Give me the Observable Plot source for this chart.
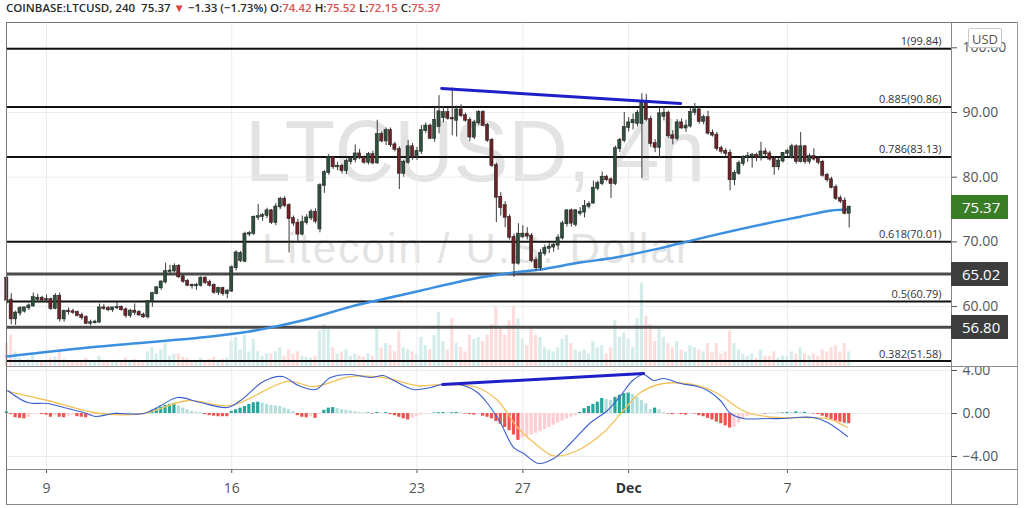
<!DOCTYPE html>
<html><head><meta charset="utf-8">
<script src="https://cdn.jsdelivr.net/npm/d3@7"></script>
<script src="https://cdn.jsdelivr.net/npm/@observablehq/plot@0.6"></script>
<style>
body{margin:0;background:#fff;}
#root{position:relative;width:1024px;height:508px;overflow:hidden;background:#fff;font-family:"Open Sans",sans-serif;}
#root > *{position:absolute;}
.hdr{left:6px;top:0;font-size:11.5px;line-height:16px;font-weight:600;color:#2a2a2a;white-space:nowrap;}
.hdr .r{color:#d9534f;}
.pbox{left:951px;width:57px;height:24px;color:#fff;font-size:15px;line-height:24px;padding-left:11px;box-sizing:border-box;}
</style></head><body><div id="root"></div>
<script>
// ---------- data ----------
const openP = [
64.4,61.0,58.1,59.0,59.3,59.8,60.1,61.1,61.3,61.0,
61.1,59.7,61.6,58.1,59.3,59.2,59.1,58.6,58.3,57.4,
57.5,57.6,59.8,59.7,59.5,59.8,59.9,59.5,58.6,59.3,
59.1,58.7,58.4,60.8,62.0,62.9,63.8,65.4,65.5,66.2,
64.6,63.9,63.3,63.2,63.3,64.4,63.7,63.3,62.2,62.8,
62.0,62.4,66.0,67.1,67.0,71.2,71.3,73.8,73.9,74.1,
74.8,73.0,75.4,76.6,75.6,73.6,72.9,71.2,73.0,73.7,
74.6,72.0,78.7,80.7,83.0,81.6,81.7,81.0,82.4,82.7,
83.6,83.0,82.3,83.5,82.2,86.6,85.6,87.2,85.0,84.3,
80.6,82.3,84.7,83.1,84.0,87.2,87.9,86.0,87.8,89.2,
90.0,89.1,88.8,90.4,89.5,88.8,86.2,88.4,90.0,88.0,
85.7,81.8,76.9,75.6,73.8,70.7,66.7,70.8,71.2,70.9,
67.1,66.0,68.2,69.0,69.2,69.5,70.6,72.8,74.8,72.7,
74.4,74.6,75.5,76.0,78.3,79.0,80.0,79.6,79.0,84.4,
85.7,87.7,88.4,88.3,88.3,91.4,88.9,85.2,84.6,89.4,
89.9,86.4,86.0,88.4,87.6,87.9,90.0,90.4,88.6,89.2,
86.8,86.5,84.4,84.0,83.7,79.6,80.6,82.1,83.0,83.2,
83.4,83.0,83.9,83.6,82.8,81.6,82.5,83.7,83.0,84.7,
82.4,84.7,82.4,83.2,82.8,82.3,80.3,79.6,78.4,76.7,
76.3,74.42];
const highP = [
64.8,62.0,59.3,60.0,59.9,60.4,62.1,61.9,61.6,61.8,
61.3,62.0,62.1,59.4,59.8,59.6,59.3,59.0,58.6,57.9,
57.9,60.4,60.3,60.0,59.9,60.6,60.1,59.8,59.6,60.4,
59.4,59.0,60.9,62.2,63.1,64.0,66.7,66.4,66.6,66.5,
64.9,64.2,63.5,63.6,64.6,64.6,64.1,63.5,63.0,63.0,
62.6,66.3,68.6,68.5,71.5,71.6,74.0,75.8,74.4,75.2,
75.0,75.9,76.9,77.0,75.9,74.0,73.5,74.0,74.2,75.0,
75.1,79.0,81.0,83.5,83.2,82.3,82.0,82.8,83.0,85.0,
84.3,83.3,83.8,84.0,88.8,87.0,87.6,87.6,85.4,84.7,
82.6,85.7,85.2,84.6,88.0,88.4,88.2,90.8,92.6,90.9,
90.6,93.8,91.0,91.2,89.9,89.2,88.8,90.3,90.3,88.3,
86.0,82.2,77.6,76.2,74.2,71.2,72.8,72.5,72.2,71.3,
67.6,68.8,69.5,69.9,70.0,71.1,73.2,75.0,75.1,75.0,
75.3,76.4,76.2,79.4,79.4,80.8,80.3,79.9,84.8,86.0,
90.0,89.2,89.8,90.3,92.9,92.8,89.4,85.8,90.6,90.8,
90.2,87.2,88.9,89.0,88.8,90.6,91.4,90.8,89.6,90.2,
87.3,86.9,84.8,84.4,84.2,81.0,82.5,83.3,83.8,83.7,
83.7,85.4,84.4,84.0,83.2,82.9,83.8,84.3,85.1,85.0,
86.9,84.9,83.6,84.4,83.2,82.6,80.6,80.0,78.8,77.1,
76.8,75.52];
const lowP = [
60.3,57.2,57.1,58.5,59.0,59.4,59.9,60.7,60.6,60.5,
59.4,59.5,57.6,57.6,58.7,58.8,58.4,57.9,57.2,57.0,
57.3,57.4,59.4,59.2,59.1,59.5,59.3,58.2,58.2,58.6,
58.5,58.2,58.1,59.9,61.8,62.5,63.5,65.0,65.2,64.3,
63.6,63.1,62.7,62.5,63.0,63.4,63.0,61.9,61.7,61.6,
61.2,62.2,65.5,66.8,66.8,70.8,71.0,73.3,73.2,73.6,
72.7,72.5,75.0,75.3,68.3,72.4,69.8,70.9,72.6,73.3,
72.8,71.4,77.5,80.3,81.2,81.0,80.5,80.4,81.9,82.2,
82.7,82.0,81.9,81.9,82.0,85.3,84.9,84.6,83.9,78.1,
80.0,82.0,82.6,82.6,83.5,86.8,85.8,85.4,86.7,88.4,
88.8,86.4,86.2,89.2,88.5,85.5,85.8,88.0,87.8,85.4,
81.5,73.0,74.0,72.2,70.3,64.5,66.4,70.5,70.3,66.8,
65.5,65.5,67.8,68.2,68.4,68.7,70.3,72.3,72.3,72.3,
74.0,73.7,75.1,75.8,77.9,78.7,79.3,76.7,78.7,83.8,
85.3,87.0,87.3,87.8,79.8,88.6,84.6,83.8,82.9,88.7,
86.0,85.0,85.6,87.4,86.9,87.6,89.5,88.2,88.1,86.5,
86.2,84.0,83.6,83.1,77.9,78.7,80.3,81.7,82.3,81.4,
82.4,82.5,83.1,82.5,80.3,81.0,82.2,83.2,82.8,82.0,
82.2,82.0,82.0,82.5,81.9,80.0,79.2,78.2,76.4,75.9,
74.2,72.15];
const closeP = [
61.0,58.1,59.0,59.7,59.8,60.1,61.4,61.3,61.0,61.1,
59.7,61.6,58.1,59.3,59.2,59.1,58.6,58.3,57.4,57.5,
57.6,59.8,59.7,59.5,59.8,59.9,59.5,58.6,59.3,59.1,
58.7,58.4,60.8,62.0,62.9,63.8,65.4,65.5,66.2,64.6,
63.9,63.3,63.2,63.3,64.4,63.7,63.3,62.2,62.8,62.0,
62.4,66.0,68.3,68.2,71.2,71.3,73.8,73.9,74.1,74.8,
73.0,75.4,76.6,75.6,73.6,72.9,71.2,73.0,73.7,74.6,
73.2,78.7,80.7,83.0,81.6,81.7,81.0,82.4,82.7,83.6,
83.0,82.3,83.5,82.2,86.6,85.6,87.2,85.0,84.3,80.6,
82.3,84.7,83.1,84.0,87.2,87.9,86.0,88.8,90.1,90.0,
89.1,89.0,90.4,89.5,88.8,86.2,88.4,90.0,88.0,85.7,
81.8,76.9,75.3,73.8,70.7,66.7,71.2,71.2,70.9,67.1,
66.0,68.2,69.0,69.2,69.5,70.6,72.8,74.8,72.9,74.8,
74.6,75.5,75.8,78.3,79.0,80.0,79.6,79.0,84.4,85.7,
87.7,88.4,88.8,89.9,91.4,88.9,85.2,84.6,89.8,89.9,
86.4,86.0,88.4,87.6,87.9,90.0,90.4,88.6,89.2,86.8,
86.5,84.4,84.0,83.7,79.6,80.6,82.1,83.0,83.2,83.4,
83.0,83.9,83.6,82.8,81.6,82.5,83.7,84.0,84.7,82.4,
84.7,82.4,83.2,82.8,82.3,80.3,79.6,78.4,76.7,76.3,
74.42,75.37];
const volume = [
22,30,14,8,6,7,12,6,5,6, 8,9,16,7,5,5,6,6,8,5, 4,10,6,5,5,6,5,8,6,7,
5,6,14,18,12,16,22,10,12,12, 9,8,6,6,8,6,7,9,6,7, 8,24,28,16,30,14,26,14,10,12,
12,14,18,10,16,12,14,10,9,8, 10,34,40,36,18,12,14,16,10,12, 10,9,12,10,36,18,22,20,14,34,
18,16,14,12,28,20,16,30,52,24, 16,46,22,18,14,30,26,28,24,30, 40,58,36,30,44,58,46,26,20,36,
30,28,18,16,14,18,26,30,22,16, 14,16,12,24,18,20,12,18,44,28, 32,26,18,46,80,48,40,24,36,28,
22,18,24,16,14,20,18,16,14,22, 14,22,12,14,34,22,16,12,10,12, 8,16,10,10,14,8,10,10,14,12,
18,12,10,12,10,16,14,18,20,14, 22,14];
const macdHist = [
0.15,-0.1,-0.4,-0.45,-0.5,-0.35,-0.1,-0.05,-0.1,-0.15,
-0.35,-0.2,-0.35,-0.4,-0.25,-0.15,-0.3,-0.35,-0.4,-0.2,
-0.1,-0.05,0.02,0.0,-0.02,0.02,0.0,-0.03,0.02,0.0,
-0.02,0.0,0.1,0.3,0.45,0.6,0.75,0.85,0.95,0.7,
0.5,0.35,0.2,0.12,0.08,-0.1,-0.2,-0.25,-0.3,-0.3,
-0.3,0.2,0.35,0.5,0.65,0.85,1.0,1.05,0.95,0.85,
0.75,0.7,0.65,0.5,0.35,0.2,-0.2,-0.35,-0.4,-0.3,
-0.45,-0.1,0.3,0.5,0.55,0.45,0.35,0.3,0.25,0.15,
0.1,0.05,0.05,-0.05,0.1,0.05,0.08,-0.1,-0.2,-0.35,
-0.5,-0.6,-0.45,-0.3,-0.15,-0.05,-0.03,0.05,0.08,0.1,
0.05,0.08,0.1,0.05,-0.05,-0.1,-0.15,-0.1,-0.25,-0.35,
-0.5,-0.75,-1.0,-1.3,-1.6,-2.0,-2.5,-2.3,-2.15,-2.0,
-1.85,-1.7,-1.5,-1.3,-1.1,-0.9,-0.7,-0.5,-0.35,-0.2,
0.1,0.45,0.65,0.85,1.05,1.4,1.3,1.2,1.5,1.7,
1.85,1.9,1.75,1.5,1.2,0.9,0.35,0.5,0.35,0.1,
-0.05,-0.1,-0.05,-0.1,-0.15,-0.05,-0.05,-0.2,-0.3,-0.45,
-0.6,-0.8,-0.95,-1.15,-1.35,-1.3,-0.9,-0.55,-0.3,-0.15,
-0.05,0.0,-0.05,0.02,-0.02,0.03,0.05,0.1,0.08,0.15,
0.1,0.1,0.05,-0.05,-0.1,-0.25,-0.4,-0.55,-0.7,-0.8,
-0.9,-0.95];
const maIdx = [0,21,44,55,67,78,89,94,105,115,121,130,138,148,157,172,180,187,190.5];
const maVal = [52.29,53.83,55.22,56.15,57.85,60.0,61.7,62.5,64.2,65.27,65.73,66.8,67.6,69.0,70.5,72.8,73.9,74.85,75.0];
const macdIdx = [0.2,4.7,9.2,12.9,17.4,20.1,24.2,31,34.9,38.7,43.9,50,53,58.2,62.5,66.1,70,73.4,77.9,82.5,85.4,87.7,92.2,96.1,98.8,103.6,106.7,109,111.9,114.9,117.2,120.6,124,127.8,132.4,136.2,139.2,141.9,144.4,146.6,148.9,152.8,156.6,158.9,161.8,164.1,167,172.5,176.1,179.3,182.9,186.1,190.6];
const macdVal = [2.14,1.02,0.93,0.56,0.09,-0.28,0,0,0.74,1.49,1.02,0.56,1.21,2.98,3.44,2.6,2.23,3.35,3.63,3.35,3.53,3.07,2.23,2.42,2.7,2.6,1.95,0.93,-0.84,-3.16,-3.72,-4.65,-4.19,-2.79,-0.84,0.28,1.67,3.07,3.63,3.07,3.26,2.79,2.51,2.14,1.21,0,-0.47,-0.47,-0.47,-0.37,-0.37,-0.84,-2.14];
const sigIdx = [0.2,9.2,21.2,31,41,50.7,63.7,69.6,77.9,85.4,93.1,99,106.7,111.3,115.8,120.3,124,129.4,135.3,139.8,143.7,148.9,156.6,161.2,165.7,168.6,174.8,180,183.8,186.8,190.6];
const sigVal = [2.05,1.21,0,0,1.21,0.74,2.98,2.51,3.44,3.35,2.6,2.7,2.42,1.21,-1.3,-2.98,-3.95,-3.44,-1.77,0.28,1.95,2.79,2.6,1.86,0.56,0,-0.37,-0.37,-0.4,-0.56,-1.3];
const fibLevels = [99.84,90.86,83.13,70.01,60.79,51.58];
const fibLabels = ["1(99.84)","0.885(90.86)","0.786(83.13)","0.618(70.01)","0.5(60.79)","0.382(51.58)"];
const srLevels = [65.02,56.80];
const trendIdx = [98.6,152.8], trendVal = [93.71,91.39];
const macdTrendIdx = [98.8,144.4], macdTrendVal = [2.7,3.72];
const dateIdx = [9,51,93,117,141,177];
const dateLabels = ["9","16","23","27","Dec","7"];
const priceTicks = [60,70,80,90,100];
const macdTicks = [-4,0,4];
const lastPrice = 75.37;

// ---------- layout ----------
const W = 1024, ML = 6, MR = 73;
const xDomain = [-0.07, 214.2];
const PT = 22, PH = 344;         // price pane
const MT = 367, MH = 138, MB = 36; // macd pane + date axis
const font = "'Open Sans', sans-serif";
const root = document.getElementById("root");

const candles = closeP.map((c,i)=>({i, o:openP[i], h:highP[i], l:lowP[i], c}));
const bull = "#2f4f3d", bear = "#6d2227";

// watermark
const wm = document.createElementNS("http://www.w3.org/2000/svg","svg");
wm.setAttribute("width",W); wm.setAttribute("height",300);
wm.style.left="0px"; wm.style.top="0px";
wm.innerHTML = `<text x="245" y="181" font-family="Liberation Sans, Arial, sans-serif" font-size="88" fill="#e3e3e3" textLength="460" lengthAdjust="spacingAndGlyphs">LTCUSD, 4h</text>
<text x="262" y="263" font-family="Liberation Sans, Arial, sans-serif" font-size="42" fill="#e3e3e3" textLength="428">Litecoin / U.S. Dollar</text>`;
root.appendChild(wm);

// volume pane overlay
const vol = Plot.plot({
  width: W, height: PH, marginLeft: ML, marginRight: MR, marginTop: 0, marginBottom: 0,
  style: {background: "transparent", overflow: "hidden"},
  x: {domain: xDomain, axis: null},
  y: {domain: [0, 330], axis: null},
  color: {type: "identity"},
  marks: [
    Plot.rect(candles, {x1: d => d.i - 0.36, x2: d => d.i + 0.36, y1: 0, y2: d => volume[d.i],
      fill: d => d.c >= d.o ? "#26a69a" : "#ef5350", fillOpacity: 0.2})
  ]
});
vol.style.left = "0px"; vol.style.top = PT + "px";
root.appendChild(vol);

// price pane
const price = Plot.plot({
  width: W, height: PH, marginLeft: ML, marginRight: MR, marginTop: 0, marginBottom: 0,
  style: {background: "transparent", fontSize: "14px", fontFamily: font, color: "#555", overflow: "hidden"},
  x: {domain: xDomain, axis: null},
  y: {domain: [50.74, 103.91], axis: "right", ticks: priceTicks, tickFormat: d3.format(".2f"), tickSize: 5, tickPadding: 6, label: null},
  color: {type: "identity"},
  marks: [
    Plot.ruleY(priceTicks, {stroke: "#ececec"}),
    Plot.ruleX(dateIdx, {stroke: "#ececec"}),
    Plot.ruleY(fibLevels, {stroke: "#111", strokeWidth: 2}),
    Plot.ruleY(srLevels, {stroke: "#4a4a4a", strokeWidth: 3}),
    Plot.text(fibLevels, {y: d => d, text: (d, i) => fibLabels[i], frameAnchor: "right", textAnchor: "end", dx: -10, dy: -7, fontSize: 11, fill: "#333"}),
    Plot.line(maIdx.map((x, k) => ({x, y: maVal[k]})), {x: "x", y: "y", stroke: "#3a8fe0", strokeWidth: 2.5, curve: "catmull-rom"}),
    Plot.ruleX(candles, {x: "i", y1: "l", y2: "h", stroke: "#3a3a3a", strokeWidth: 1}),
    Plot.rect(candles, {x1: d => d.i - 0.36, x2: d => d.i + 0.36, y1: "o", y2: "c",
      fill: d => d.c >= d.o ? bull : bear, stroke: "#1e1e1e", strokeWidth: 0.5, insetTop: -0.5, insetBottom: -0.5}),
    Plot.line(trendIdx.map((x, k) => ({x, y: trendVal[k]})), {x: "x", y: "y", stroke: "#1f1fc8", strokeWidth: 3})
  ]
});
price.style.left = "0px"; price.style.top = PT + "px";
root.appendChild(price);

// macd pane
const histData = macdHist.map((v, i) => {
  const p = i > 0 ? macdHist[i-1] : v;
  const col = v >= 0 ? (v >= p ? "#26a69a" : "#b2dfdb") : (v <= p ? "#ef5350" : "#ffcdd2");
  return {i, v, col};
});
const macd = Plot.plot({
  width: W, height: MH, marginLeft: ML, marginRight: MR, marginTop: 0, marginBottom: MB,
  style: {background: "transparent", fontSize: "14px", fontFamily: font, color: "#555", overflow: "hidden"},
  x: {domain: xDomain, axis: "bottom", ticks: dateIdx, tickFormat: d => dateLabels[dateIdx.indexOf(d)], tickSize: 4, tickPadding: 10, label: null},
  y: {domain: [-5.21, 4.28], axis: "right", ticks: macdTicks, tickFormat: d3.format(".2f"), tickSize: 5, tickPadding: 6, label: null},
  color: {type: "identity"},
  marks: [
    Plot.ruleY(macdTicks, {stroke: "#ececec"}),
    Plot.ruleX(dateIdx, {stroke: "#ececec"}),
    Plot.rect(histData, {x1: d => d.i - 0.36, x2: d => d.i + 0.36, y1: 0, y2: "v", fill: "col"}),
    Plot.line(sigIdx.map((x, k) => ({x, y: sigVal[k]})), {x: "x", y: "y", stroke: "#f2c15a", strokeWidth: 1.3, curve: "catmull-rom"}),
    Plot.line(macdIdx.map((x, k) => ({x, y: macdVal[k]})), {x: "x", y: "y", stroke: "#3b5fd0", strokeWidth: 1.1, curve: "catmull-rom"}),
    Plot.line(macdTrendIdx.map((x, k) => ({x, y: macdTrendVal[k]})), {x: "x", y: "y", stroke: "#1f1fc8", strokeWidth: 3})
  ]
});
macd.style.left = "0px"; macd.style.top = MT + "px";
d3.select(macd).selectAll("text").each(function(){ if (this.textContent === "Dec") { this.setAttribute("font-weight","bold"); this.setAttribute("fill","#333"); } });
root.appendChild(macd);

// frame lines
function line(l, t, w, h, c) {
  const d = document.createElement("div");
  Object.assign(d.style, {left: l+"px", top: t+"px", width: w+"px", height: h+"px", background: c});
  root.appendChild(d);
}
line(6, 22, 1012, 1, "#777");
line(6, 22, 1, 483, "#777");
line(1017, 22, 1, 483, "#999");
line(6, 504, 1012, 1, "#888");
line(951, 22, 1, 483, "#888");
line(6, 366, 1012, 1, "#888");
line(6, 469, 1012, 1, "#888");

// price boxes on axis
const yP = price.scale("y");
function pbox(v, bg) {
  const d = document.createElement("div");
  d.className = "pbox";
  d.style.top = (PT + yP.apply(v) - 12) + "px";
  d.style.background = bg;
  d.textContent = d3.format(".2f")(v);
  root.appendChild(d);
}
pbox(lastPrice, "#3a7d27");
pbox(srLevels[0], "#3d3d3d");
pbox(srLevels[1], "#3d3d3d");

// USD badge
const usd = document.createElement("div");
Object.assign(usd.style, {left: "968px", top: "28px", width: "34px", height: "20px", background: "#fff", border: "1px solid #c8c8c8", borderRadius: "2px",
  fontSize: "13px", lineHeight: "20px", textAlign: "center", color: "#555", boxSizing: "border-box"});
usd.textContent = "USD";
root.appendChild(usd);

// header
const hdr = document.createElement("div");
hdr.className = "hdr";
hdr.innerHTML = `COINBASE:LTCUSD, 240&nbsp; 75.37 <span style="color:#e0413f">▼</span> −1.33 (−1.73%) O:<span class="r">74.42</span> H:<span class="r">75.52</span> L:<span class="r">72.15</span> C:<span class="r">75.37</span>`;
root.appendChild(hdr);
</script></body></html>
